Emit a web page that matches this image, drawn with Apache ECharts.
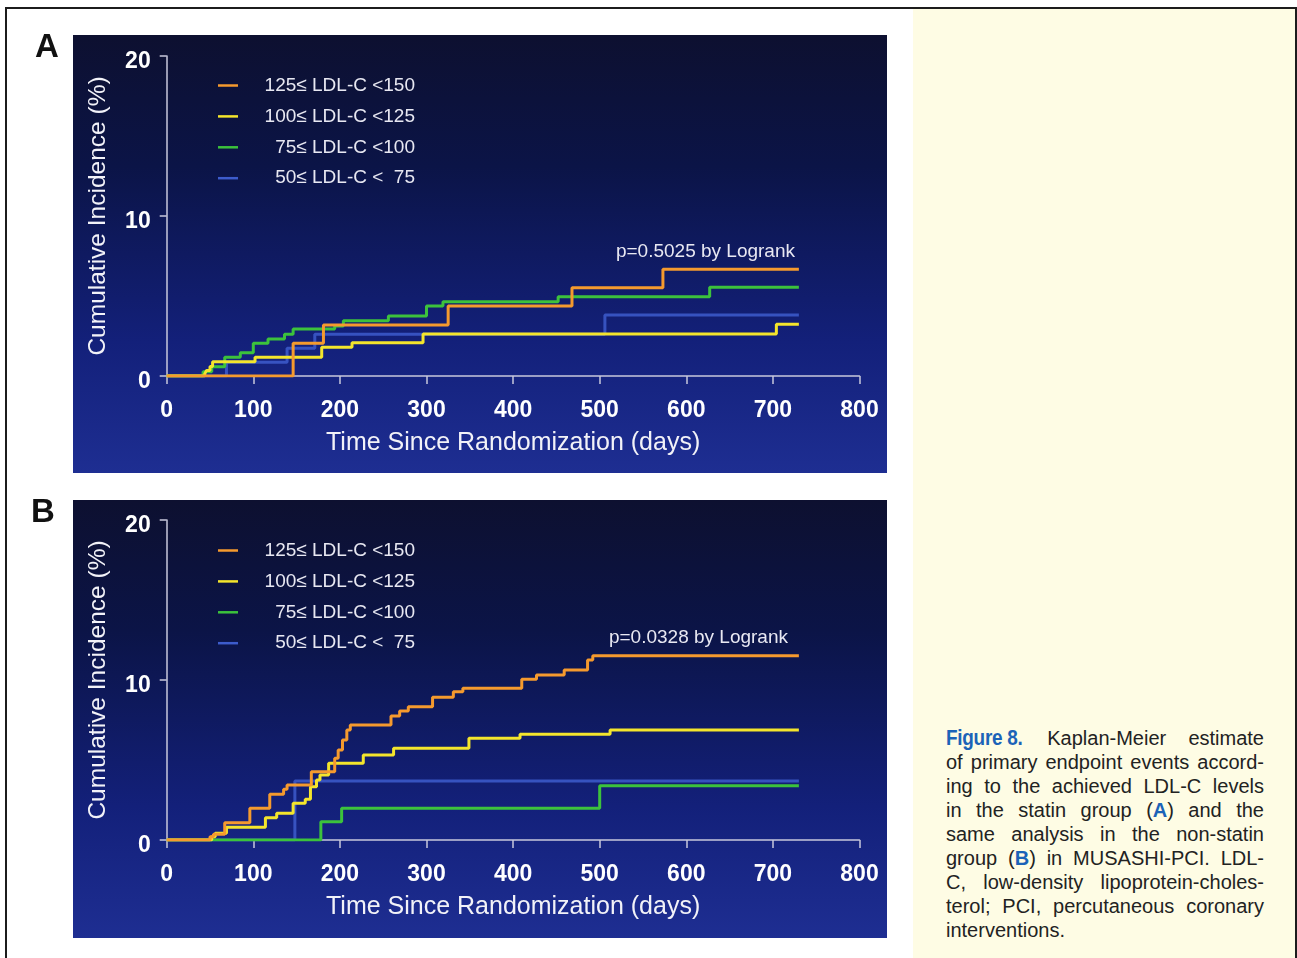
<!DOCTYPE html>
<html>
<head>
<meta charset="utf-8">
<script src="https://cdn.jsdelivr.net/npm/echarts@6/dist/echarts.min.js"></script>
<style>
html,body{margin:0;padding:0;background:#fff;width:1297px;height:958px;overflow:hidden;}
#frame{position:absolute;left:5px;top:7px;width:1292px;height:980px;border:2px solid #1c1c1c;border-bottom:none;box-sizing:border-box;}
#cap{position:absolute;left:913px;top:9px;width:382px;height:949px;background:#fefce4;}
#chart{position:absolute;left:0;top:0;width:913px;height:958px;}
#text{position:absolute;left:946px;top:726px;width:318px;font-family:'Liberation Sans',Arial,sans-serif;font-size:20px;color:#222;}
#text div{height:24px;line-height:24px;text-align:justify;text-align-last:justify;}
#text div.last{text-align:left;text-align-last:left;}
.figw{display:inline-block;width:79px;white-space:nowrap;overflow:visible;vertical-align:top;}
.fig{display:inline-block;font-family:'Liberation Sans',Arial,sans-serif;font-weight:bold;font-size:22px;color:#1b63b8;transform:scaleX(0.86);transform-origin:0 50%;letter-spacing:-0.3px;}
.bl{font-weight:bold;color:#1b63b8;}
</style>
</head>
<body>
<div id="frame"></div>
<div id="cap"></div>
<div id="text">
<div><span class="figw"><span class="fig">Figure 8.</span></span> Kaplan-Meier estimate</div>
<div>of primary endpoint events accord-</div>
<div>ing to the achieved LDL-C levels</div>
<div>in the statin group (<span class="bl">A</span>) and the</div>
<div>same analysis in the non-statin</div>
<div>group (<span class="bl">B</span>) in MUSASHI-PCI. LDL-</div>
<div>C, low-density lipoprotein-choles-</div>
<div>terol; PCI, percutaneous coronary</div>
<div class="last">interventions.</div>
</div>
<div id="chart"></div>
<script>
// ---- data (days, cumulative incidence %) ----
const legendNames = ['125\u2264 LDL-C <150', '100\u2264 LDL-C <125', '75\u2264 LDL-C <100', '50\u2264 LDL-C <  75'];
const lineColors = ['#f59a2e', '#f4e52c', '#3cc23c', '#3d5ccc'];
const pTexts = ['p=0.5025 by Logrank', 'p=0.0328 by Logrank'];
const panelLetters = ['A', 'B'];
const xTickValues = [0, 100, 200, 300, 400, 500, 600, 700, 800];
const yTickValues = [0, 10, 20];

// Panel A (statin group)
const A_orange = [[0,0],[146,2.04],[181,3.19],[325,4.38],[468,5.52],[573,6.67],[730,6.67]];
const A_yellow = [[0,0],[44,0.15],[46,0.35],[50,0.6],[53,0.89],[102,1.17],[179,1.79],[214,2.08],[296,2.63],[704,3.23],[730,3.23]];
const A_green  = [[0,0],[42,0.27],[52,0.58],[67,1.17],[85,1.46],[100,2.04],[117,2.31],[136,2.61],[146,2.94],[194,3.13],[204,3.46],[256,3.75],[300,4.38],[319,4.64],[452,4.96],[627,5.54],[730,5.54]];
const A_blue   = [[0,0],[69,0.86],[139,1.73],[171,2.61],[506,3.81],[730,3.81]];

// Panel B (non-statin group)
const B_orange = [[0,0],[50,0.21],[54,0.36],[67,1.08],[96,1.98],[119,2.86],[135,3.17],[139,3.44],[167,4.27],[194,5.11],[198,5.63],[203,6.25],[208,6.88],[212,7.19],[259,7.75],[269,8.06],[279,8.33],[307,8.92],[331,9.27],[342,9.48],[410,10.04],[427,10.31],[459,10.63],[486,11.25],[492,11.52],[730,11.52]];
const B_yellow = [[0,0],[52,0.2],[56,0.42],[69,0.79],[114,1.39],[127,1.67],[146,2.29],[160,2.54],[166,3.33],[173,3.75],[177,4.06],[187,4.79],[227,5.31],[262,5.73],[349,6.36],[408,6.61],[512,6.88],[730,6.88]];
const B_green  = [[0,0],[178,1.14],[202,1.98],[500,3.39],[730,3.39]];
const B_blue   = [[0,0],[148,3.69],[730,3.69]];

const panels = [
  [A_orange, A_yellow, A_green, A_blue],
  [B_orange, B_yellow, B_green, B_blue]
];

// ---- layout ----
const FONT = "'Liberation Sans', Arial, sans-serif";
const gridTops = [56, 520];
const bgTops = [35, 500];
const legendTops = [76, 541];
const pPos = [[795, 252], [788, 638]];
const letterPos = [[47, 48], [43, 513]];

const chart = echarts.init(document.getElementById('chart'), null, {renderer: 'canvas'});

const grids = [], xAxes = [], yAxes = [], series = [], legends = [], graphics = [];
const axisColor = '#c8c8dc';

for (let p = 0; p < 2; p++) {
  grids.push({left: 166.7, top: gridTops[p], width: 692.8, height: 320});
  xAxes.push({
    type: 'value', gridIndex: p, min: 0, max: 800, interval: 100,
    axisLine: {show: true, onZero: false, lineStyle: {color: axisColor, width: 1.5}},
    axisTick: {show: true, length: 8, lineStyle: {color: axisColor, width: 1.5}},
    splitLine: {show: false},
    axisLabel: {color: '#ffffff', fontFamily: FONT, fontSize: 23, fontWeight: 'bold', margin: 23,
      formatter: v => xTickValues.includes(v) ? String(v) : ''},
    name: 'Time Since Randomization (days)', nameLocation: 'middle', nameGap: 67,
    nameTextStyle: {color: '#f2f2f8', fontFamily: FONT, fontSize: 25, verticalAlign: 'middle'}
  });
  yAxes.push({
    type: 'value', gridIndex: p, min: 0, max: 20, interval: 10,
    axisLine: {show: true, lineStyle: {color: axisColor, width: 1.5}},
    axisTick: {show: true, length: 7, lineStyle: {color: axisColor, width: 1.5}},
    splitLine: {show: false},
    axisLabel: {color: '#ffffff', fontFamily: FONT, fontSize: 23, fontWeight: 'bold', margin: 16,
      verticalAlign: 'top', lineHeight: 12,
      formatter: v => yTickValues.includes(v) ? String(v) : ''},
    name: 'Cumulative Incidence (%)', nameLocation: 'middle', nameGap: 68, nameRotate: 90,
    nameTextStyle: {color: '#f2f2f8', fontFamily: FONT, fontSize: 24.5, verticalAlign: 'middle'}
  });
  // draw order: blue, green, yellow, orange (orange on top)
  for (const k of [3, 2, 1, 0]) {
    series.push({
      name: legendNames[k], type: 'line', step: 'end',
      xAxisIndex: p, yAxisIndex: p,
      data: panels[p][k], showSymbol: false, symbol: 'none',
      lineStyle: {width: 3, color: lineColors[k], opacity: k === 3 ? 0.85 : 1},
      itemStyle: {color: lineColors[k]},
      z: 2 + (3 - k), animation: false
    });
  }
  legends.push({
    data: legendNames, orient: 'vertical', left: 218, top: legendTops[p], padding: 0,
    itemWidth: 20, itemHeight: 2.5, itemGap: 11.9, icon: 'rect', selectedMode: false,
    formatter: name => '{t|' + name + '}',
    textStyle: {color: '#e8e8f2', fontFamily: FONT, fontSize: 19,
      rich: {t: {width: 172, align: 'right', fontSize: 19, lineHeight: 20, color: '#e8e8f2', fontFamily: FONT}}}
  });
  graphics.push({
    type: 'rect', z: -10, silent: true,
    shape: {x: 73, y: bgTops[p], width: 814, height: 438},
    style: {fill: new echarts.graphic.LinearGradient(0, 0, 0, 1, [
      {offset: 0, color: '#0d1030'},
      {offset: 0.3, color: '#0b1447'},
      {offset: 0.7, color: '#13207a'},
      {offset: 1, color: '#1e2e92'}
    ])}
  });
  graphics.push({
    type: 'text', z: 10, silent: true, x: pPos[p][0], y: pPos[p][1],
    style: {text: pTexts[p], fill: '#e8e8f2', font: '19px ' + FONT, align: 'right', verticalAlign: 'middle'}
  });
  graphics.push({
    type: 'text', z: 10, silent: true, x: letterPos[p][0], y: letterPos[p][1],
    style: {text: panelLetters[p], fill: '#111111', font: 'bold 33px ' + FONT, align: 'center', verticalAlign: 'middle'}
  });
}

chart.setOption({
  backgroundColor: 'transparent',
  animation: false,
  grid: grids, xAxis: xAxes, yAxis: yAxes, series: series, legend: legends,
  graphic: graphics
});
</script>
</body>
</html>
